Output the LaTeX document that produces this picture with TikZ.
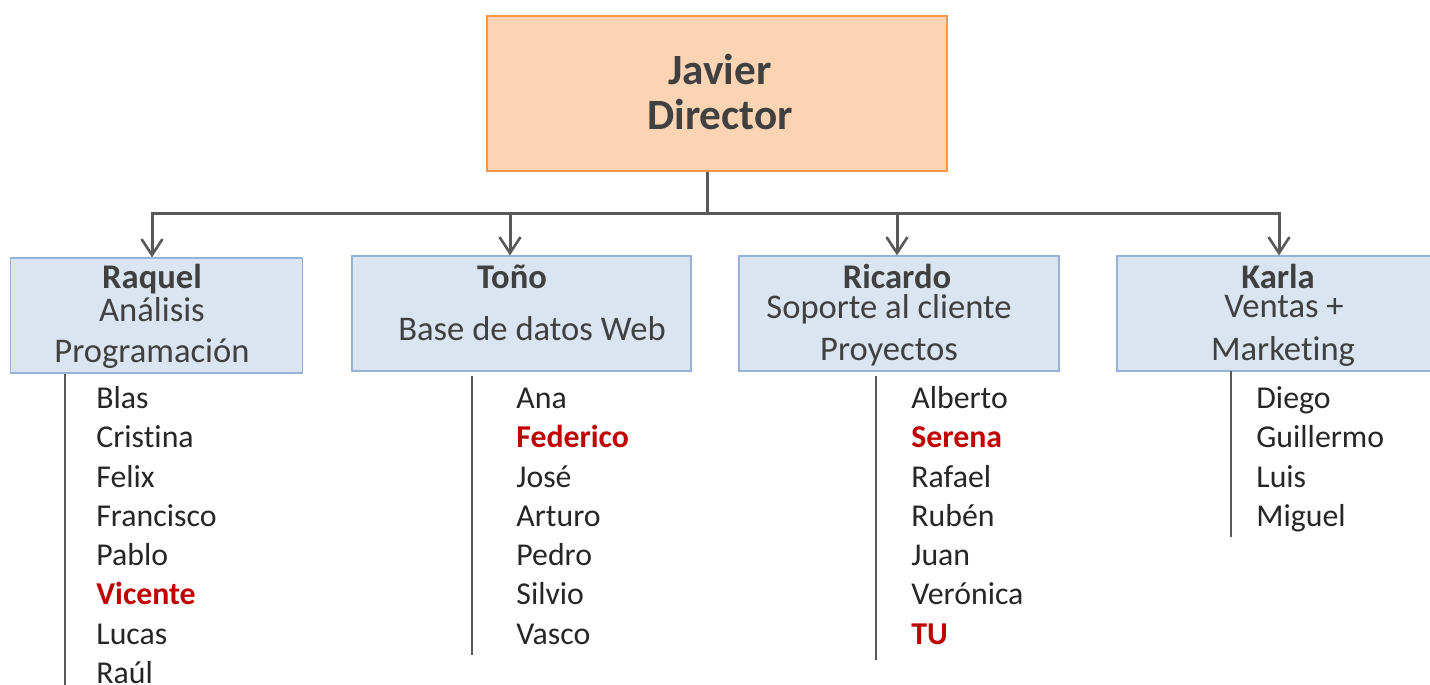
\documentclass[tikz,border=0pt]{standalone}
\usepackage{fontspec}
\setmainfont{Carlito}[Ligatures=NoCommon]
\usetikzlibrary{arrows.meta}
\definecolor{dirfill}{HTML}{FBD4B4}
\definecolor{dirline}{HTML}{F79646}
\definecolor{bfill}{HTML}{DBE5F1}
\definecolor{bline}{HTML}{95B3D7}
\definecolor{htext}{HTML}{404040}
\definecolor{ltext}{HTML}{262626}
\definecolor{conn}{HTML}{595959}
\definecolor{hl}{HTML}{C00000}
\begin{document}
\begin{tikzpicture}[x=0.5pt,y=-0.5pt,
  dirbox/.style={draw=dirline,fill=dirfill,line width=0.6pt,inner sep=0pt,minimum width=230pt,minimum height=77.5pt},
  depbox/.style={draw=bline,fill=bfill,line width=0.6pt,inner sep=0pt,minimum height=57.5pt},
  dtext/.style={anchor=base,inner sep=0pt,text=htext,font=\fontsize{21.6}{25}\selectfont\bfseries},
  htitle/.style={anchor=base,inner sep=0pt,text=htext,font=\fontsize{17.3}{20}\selectfont\bfseries},
  hsub/.style={anchor=base,inner sep=0pt,text=htext,font=\fontsize{17.3}{20}\selectfont},
  member/.style={anchor=base west,inner sep=0pt,text=ltext,font=\fontsize{15.9}{19}\selectfont},
  hot/.style={member,text=hl,font=\fontsize{15.9}{19}\selectfont\bfseries},
  link/.style={draw=conn,line width=1.5pt},
  arr/.style={link,-{Straight Barb[length=8pt,width=10.5pt,line width=1.3pt]}},
  listline/.style={draw=conn,line width=1.2pt}]
\useasboundingbox (0,0) rectangle (1430,685);
% boxes
\node[dirbox] (dir) at (717,93.5) {};
\node[depbox,minimum width=146pt] (raquel) at (156.5,315.5) {};
\node[depbox,minimum width=169.5pt] (tono) at (521.5,313.5) {};
\node[depbox,minimum width=160pt] (ricardo) at (899,313.5) {};
\node[depbox,minimum width=159pt] (karla) at (1276,313.5) {};
% header texts
\node[dtext] (t-javier) at (720,84) {Javier};
\node[dtext] (t-director) at (720,129) {Director};
\node[htitle] (t-raquel) at (152,288) {Raquel};
\node[hsub] (t-ana) at (152,321) {Análisis};
\node[hsub] (t-prog) at (152,362) {Programación};
\node[htitle] (t-tono) at (512,288) {Toño};
\node[hsub] (t-bd) at (532,340) {Base de datos Web};
\node[htitle] (t-ricardo) at (897,288) {Ricardo};
\node[hsub] (t-sop) at (889,318) {Soporte al cliente};
\node[hsub] (t-proy) at (889,360) {Proyectos};
\node[htitle] (t-karla) at (1278,288) {Karla};
\node[hsub] (t-ventas) at (1284,317) {Ventas +};
\node[hsub] (t-mkt) at (1283,360) {Marketing};
% connectors
\coordinate (stem) at (707,213.5);
\coordinate (xa) at (152,0);
\coordinate (xb) at (510,0);
\coordinate (xc) at (897,0);
\coordinate (xd) at (1279,0);
\draw[link] (dir.south -| stem) -- (stem);
\draw[arr] (stem) -| (raquel.north -| xa);
\draw[arr] (stem -| xb) -- (tono.north -| xb);
\draw[arr] (stem) -| (karla.north -| xd);
\draw[arr] (stem -| xc) -- (ricardo.north -| xc);
% list lines
\coordinate (la1) at (65,374); \coordinate (la2) at (65,690);
\coordinate (lb1) at (472,376); \coordinate (lb2) at (472,655);
\coordinate (lc1) at (876,376); \coordinate (lc2) at (876,660);
\coordinate (ld1) at (1231,371); \coordinate (ld2) at (1231,537);
\draw[listline] (la1) -- (la2);
\draw[listline] (lb1) -- (lb2);
\draw[listline] (lc1) -- (lc2);
\draw[listline] (ld1) -- (ld2);
% members
\foreach \n/\s [count=\i from 0] in {Blas/member,Cristina/member,Felix/member,Francisco/member,Pablo/member,Vicente/hot,Lucas/member,Raúl/member}
  \node[\s] (a\i) at (96,408.5+39.25*\i) {\n};
\foreach \n/\s [count=\i from 0] in {Ana/member,Federico/hot,José/member,Arturo/member,Pedro/member,Silvio/member,Vasco/member}
  \node[\s] (b\i) at (516,408.5+39.25*\i) {\n};
\foreach \n/\s [count=\i from 0] in {Alberto/member,Serena/hot,Rafael/member,Rubén/member,Juan/member,Verónica/member,TU/hot}
  \node[\s] (c\i) at (911,408.5+39.25*\i) {\n};
\foreach \n/\s [count=\i from 0] in {Diego/member,Guillermo/member,Luis/member,Miguel/member}
  \node[\s] (d\i) at (1256,408.5+39.25*\i) {\n};
\end{tikzpicture}
\end{document}
